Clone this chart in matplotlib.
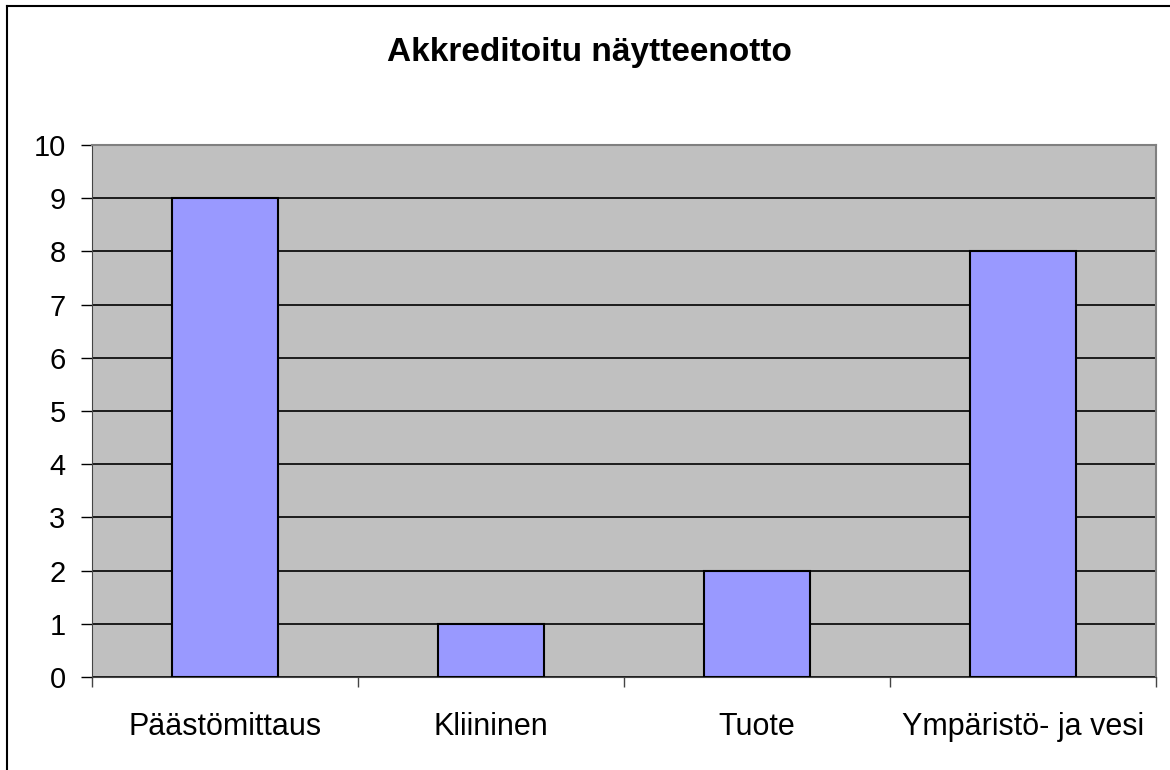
import matplotlib.pyplot as plt
from matplotlib.lines import Line2D

categories = ['Päästömittaus', 'Kliininen', 'Tuote', 'Ympäristö- ja vesi']
values = [9, 1, 2, 8]
y_ticks = list(range(0, 11))

plt.rcParams['font.family'] = ['Liberation Sans', 'DejaVu Sans']

fig = plt.figure(figsize=(11.7, 7.7), dpi=100)
W, H = 1170, 770
ax = fig.add_axes([92 / W, 1 - 677 / H, (1156 - 92) / W, (677 - 145) / H])

# outer chart frame (top and left visible)
fig.add_artist(Line2D([7 / W, 1.0], [1 - 6 / H, 1 - 6 / H], color='black', lw=1.5))
fig.add_artist(Line2D([7 / W, 7 / W], [0, 1 - 6 / H], color='black', lw=1.5))

ax.set_facecolor('#c0c0c0')
x = range(len(categories))
ax.bar(x, values, width=0.395, color='#9999ff', edgecolor='black', linewidth=1.5, zorder=3)

ax.set_xlim(-0.5, len(categories) - 0.5)
ax.set_ylim(0, 10)
ax.set_yticks(y_ticks)
ax.yaxis.grid(True, color='black', linewidth=1.2, zorder=1)
ax.set_axisbelow(True)

ax.set_xticks([i - 0.5 for i in range(len(categories) + 1)])
ax.set_xticklabels([])
ax.set_xticks(list(x), minor=True)
ax.set_xticklabels(categories, minor=True, fontsize=22)
ax.tick_params(axis='x', which='major', length=7, width=1, color='#444444', direction='out')
ax.tick_params(axis='x', which='minor', length=0, pad=25)
ax.tick_params(axis='y', length=8, width=1, labelsize=21, pad=11)

ax.spines['top'].set_color('#808080')
ax.spines['right'].set_color('#808080')
ax.spines['top'].set_linewidth(1.5)
ax.spines['right'].set_linewidth(1.5)
ax.spines['left'].set_color('#444444')
ax.spines['bottom'].set_color('#444444')

fig.text(589 / W, 1 - 52 / H, 'Akkreditoitu näytteenotto', ha='center', va='center',
         fontsize=24, fontweight='bold')

fig.savefig('out.png', dpi=100)
